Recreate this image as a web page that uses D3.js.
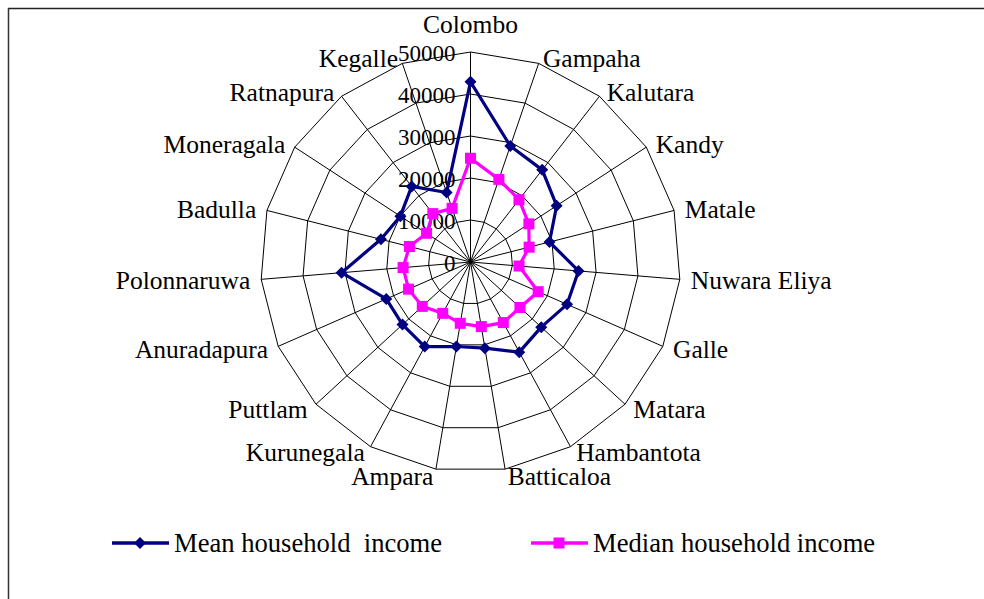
<!DOCTYPE html>
<html>
<head>
<meta charset="utf-8">
<script src="https://cdn.jsdelivr.net/npm/d3@7"></script>
<style>
  body { margin: 0; background: #fff; }
  svg text { font-family: "Liberation Serif", "Times New Roman", serif; fill: #000; white-space: pre; }
</style>
</head>
<body>
<svg id="chart" width="984" height="599"></svg>
<script>
const districts = ["Colombo", "Gampaha", "Kalutara", "Kandy", "Matale", "Nuwara Eliya", "Galle",
  "Matara", "Hambantota", "Batticaloa", "Ampara", "Kurunegala", "Puttlam", "Anuradapura",
  "Polonnaruwa", "Badulla", "Moneragala", "Ratnapura", "Kegalle"];
const meanIncome = [42900, 29200, 27800, 24500, 19400, 25800, 25100, 22900, 24400, 20800,
  20400, 22900, 22000, 21900, 30800, 22000, 19950, 22800, 17500];
const medianIncome = [24700, 20800, 18800, 16600, 14400, 11600, 17600, 16000, 16400, 15600,
  14800, 13900, 15600, 16100, 16100, 15000, 12500, 14600, 13500];
const tickValues = [0, 10000, 20000, 30000, 40000, 50000];
const seriesNames = ["Mean household  income", "Median household income"];

const svg = d3.select("#chart");
const cx = 470.5, cy = 262, radius = 210;
const n = districts.length;

const r = d3.scaleLinear().domain([0, 50000]).range([0, radius]);
const angle = d3.scaleLinear().domain([0, n]).range([0, 2 * Math.PI]);

// frame (only top and left edges are visible in the original)
svg.append("line").attr("x1", 8).attr("y1", 8.5).attr("x2", 984).attr("y2", 8.5)
  .attr("stroke", "#222").attr("stroke-width", 1.5);
svg.append("line").attr("x1", 8.5).attr("y1", 8).attr("x2", 8.5).attr("y2", 599)
  .attr("stroke", "#333").attr("stroke-width", 1.5);

const g = svg.append("g").attr("transform", `translate(${cx},${cy})`);

// grid rings
const ring = d3.lineRadial().curve(d3.curveLinearClosed);
g.selectAll(".ring")
  .data(tickValues.filter(v => v > 0))
  .join("path")
  .attr("class", "ring")
  .attr("d", v => ring(districts.map((d, i) => [angle(i), r(v)])))
  .attr("fill", "none")
  .attr("stroke", "#000")
  .attr("stroke-width", 1);

// spokes
g.selectAll(".spoke")
  .data(districts)
  .join("line")
  .attr("class", "spoke")
  .attr("x1", 0).attr("y1", 0)
  .attr("x2", (d, i) => r(50000) * Math.sin(angle(i)))
  .attr("y2", (d, i) => -r(50000) * Math.cos(angle(i)))
  .attr("stroke", "#000")
  .attr("stroke-width", 1);

// value axis labels
g.selectAll(".tick")
  .data(tickValues)
  .join("text")
  .attr("class", "tick")
  .attr("x", -15)
  .attr("y", v => -r(v) + 1)
  .attr("text-anchor", "end")
  .attr("dominant-baseline", "central")
  .attr("font-size", "23px")
  .text(v => v);

// series
const series = [
  { name: seriesNames[0], values: meanIncome, color: "#000080", marker: "diamond" },
  { name: seriesNames[1], values: medianIncome, color: "#FF00FF", marker: "square" }
];

function marker(sel, s) {
  if (s.marker === "diamond") {
    sel.append("path").attr("d", "M0,-6L6,0L0,6L-6,0Z").attr("fill", s.color);
  } else {
    sel.append("rect").attr("x", -5.5).attr("y", -5.5).attr("width", 11).attr("height", 11).attr("fill", s.color);
  }
}

series.forEach(s => {
  const pts = s.values.map((v, i) => [angle(i), r(v)]);
  g.append("path")
    .attr("d", ring(pts))
    .attr("fill", "none")
    .attr("stroke", s.color)
    .attr("stroke-width", 3.2)
    .attr("stroke-linejoin", "round");
  g.selectAll(null)
    .data(s.values)
    .join("g")
    .attr("transform", (v, i) => `translate(${r(v) * Math.sin(angle(i))},${-r(v) * Math.cos(angle(i))})`)
    .each(function() { marker(d3.select(this), s); });
});

// category labels
g.selectAll(".cat")
  .data(districts)
  .join("text")
  .attr("class", "cat")
  .attr("font-size", "25.5px")
  .attr("dominant-baseline", "central")
  .each(function(d, i) {
    const a = angle(i), sn = Math.sin(a), cs = -Math.cos(a);
    const vx = radius * sn, vy = radius * cs;
    const t = d3.select(this);
    if (Math.abs(sn) < 0.1) {
      t.attr("x", vx).attr("y", vy + cs * 28).attr("text-anchor", "middle");
    } else {
      t.attr("x", vx + Math.sign(sn) * (1 + 10 * Math.abs(sn)))
       .attr("y", vy + 1 + 6 * cs)
       .attr("text-anchor", sn > 0 ? "start" : "end");
    }
  })
  .text(d => d);

// legend
const legendX = [112, 531];
const legend = svg.selectAll(".legend")
  .data(series)
  .join("g")
  .attr("class", "legend")
  .attr("transform", (s, i) => `translate(${legendX[i]},543)`);
legend.append("line")
  .attr("x1", 0).attr("x2", 57).attr("y1", 0).attr("y2", 0)
  .attr("stroke", s => s.color).attr("stroke-width", 3.5);
legend.each(function(s) {
  const m = d3.select(this).append("g").attr("transform", "translate(28,0)");
  marker(m, s);
});
legend.append("text")
  .attr("x", 62).attr("y", 0)
  .attr("dominant-baseline", "central")
  .attr("font-size", "26.6px")
  .text(s => s.name);
</script>
</body>
</html>
